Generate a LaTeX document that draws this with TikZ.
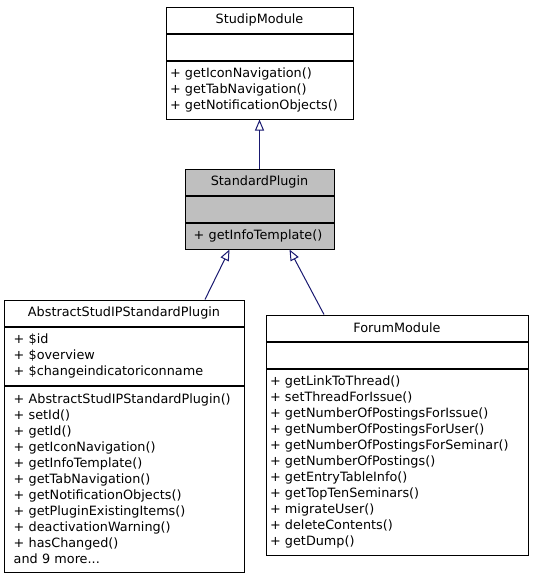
\documentclass[tikz,border=0pt]{standalone}
\usepackage{fontspec}
\setmainfont{DejaVu Sans}
\usetikzlibrary{positioning,arrows.meta}
\definecolor{edgeblue}{RGB}{25,25,112}
\definecolor{basegray}{RGB}{191,191,191}

\begin{document}
\begin{tikzpicture}[x=1pt, y=-1pt, line width=1pt,
    every node/.style={font=\fontsize{12.8}{16}\selectfont},
    cls/.style={draw=black, minimum height=26pt, inner sep=0pt},
    members/.style={draw=black, align=left, inner xsep=0pt, inner ysep=0pt, minimum height=#1*16pt+10pt},
    inherit/.style={draw=edgeblue, -{Triangle[open, length=11pt, width=9pt]}}]

        \useasboundingbox (0,0) rectangle (533,579);

        \node[cls, minimum width=187pt] (studip) at (259.5,20) {StudipModule};
        \node[members=1, minimum width=187pt, below=0pt of studip] (studipattr) {};
        \node[members=3, minimum width=187pt, text width=179pt, below=0pt of studipattr] (studipops) {+ getIconNavigation()\\+ getTabNavigation()\\+ getNotificationObjects()};

        \node[cls, fill=basegray, minimum width=149pt] (std) at (259.5,182) {StandardPlugin};
        \node[members=1, fill=basegray, minimum width=149pt, below=0pt of std] (stdattr) {};
        \node[members=1, fill=basegray, minimum width=149pt, text width=131.6pt, below=0pt of stdattr] (stdops) {+ getInfoTemplate()};

        \node[cls, minimum width=240pt] (abs) at (124,313) {AbstractStudIPStandardPlugin};
        \node[members=3, minimum width=240pt, text width=220.6pt, below=0pt of abs] (absattr) {+ \$id\\+ \$overview\\+ \$changeindicatoriconname};
        \node[members=11, minimum width=240pt, text width=220.6pt, below=0pt of absattr] (absops) {+ AbstractStudIPStandardPlugin()\\+ setId()\\+ getId()\\+ getIconNavigation()\\+ getInfoTemplate()\\+ getTabNavigation()\\+ getNotificationObjects()\\+ getPluginExistingItems()\\+ deactivationWarning()\\+ hasChanged()\\and 9 more...};

        \node[cls, minimum width=262pt] (forum) at (397,328) {ForumModule};
        \node[members=1, minimum width=262pt, below=0pt of forum] (forumattr) {};
        \node[members=11, minimum width=262pt, text width=254pt, below=0pt of forumattr] (forumops) {+ getLinkToThread()\\+ setThreadForIssue()\\+ getNumberOfPostingsForIssue()\\+ getNumberOfPostingsForUser()\\+ getNumberOfPostingsForSeminar()\\+ getNumberOfPostings()\\+ getEntryTableInfo()\\+ getTopTenSeminars()\\+ migrateUser()\\+ deleteContents()\\+ getDump()};

        \draw[inherit] (std.north) -- (studipops.south);
        \draw[inherit] ([xshift=81pt]abs.north) -- ([xshift=-30pt]stdops.south);
        \draw[inherit] ([xshift=-73pt]forum.north) -- ([xshift=30pt]stdops.south);

    \end{tikzpicture}
\end{document}
